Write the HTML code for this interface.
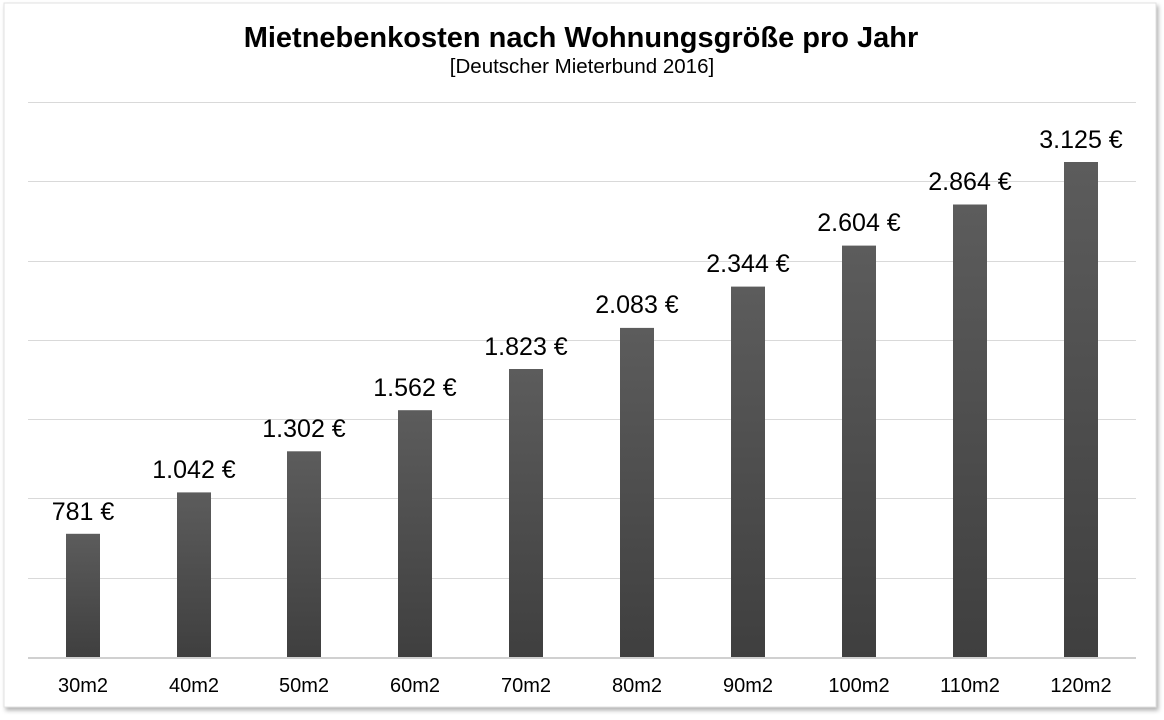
<!DOCTYPE html>
<html><head><meta charset="utf-8"><style>
body{margin:0;background:#fff;width:1164px;height:715px;overflow:hidden}
</style></head><body>
<svg width="1164" height="715" xmlns="http://www.w3.org/2000/svg" font-family="Liberation Sans, Arial, sans-serif">
<defs>
<linearGradient id="g" x1="0" y1="0" x2="0" y2="1"><stop offset="0" stop-color="#5c5c5c"/><stop offset="1" stop-color="#3f3f3f"/></linearGradient>
<filter id="s" x="-5%" y="-5%" width="110%" height="110%"><feDropShadow dx="2" dy="3" stdDeviation="2" flood-color="#000" flood-opacity="0.3"/></filter>
</defs>
<rect x="4" y="3" width="1152" height="704" fill="#fff" stroke="#e2e2e2" filter="url(#s)"/>
<text x="581" y="47" text-anchor="middle" font-size="29" font-weight="bold" fill="#000">Mietnebenkosten nach Wohnungsgröße pro Jahr</text>
<text x="582" y="73" text-anchor="middle" font-size="20.5" fill="#000">[Deutscher Mieterbund 2016]</text>
<g stroke="#d9d9d9" stroke-width="1">
<line x1="28" x2="1136" y1="102.5" y2="102.5"/>
<line x1="28" x2="1136" y1="181.5" y2="181.5"/>
<line x1="28" x2="1136" y1="261.5" y2="261.5"/>
<line x1="28" x2="1136" y1="340.5" y2="340.5"/>
<line x1="28" x2="1136" y1="419.5" y2="419.5"/>
<line x1="28" x2="1136" y1="498.5" y2="498.5"/>
<line x1="28" x2="1136" y1="578.5" y2="578.5"/>
</g>
<g fill="url(#g)">
<rect x="66" y="533.8" width="34" height="123.2"/>
<rect x="177" y="492.4" width="34" height="164.6"/>
<rect x="287" y="451.3" width="34" height="205.7"/>
<rect x="398" y="410.2" width="34" height="246.8"/>
<rect x="509" y="369.0" width="34" height="288"/>
<rect x="620" y="327.9" width="34" height="329.1"/>
<rect x="731" y="286.6" width="34" height="370.4"/>
<rect x="842" y="245.6" width="34" height="411.4"/>
<rect x="953" y="204.5" width="34" height="452.5"/>
<rect x="1064" y="162" width="34" height="495"/>
</g>
<line x1="28" x2="1136" y1="658" y2="658" stroke="#d0d0d0" stroke-width="2"/>
<g font-size="25" text-anchor="middle" fill="#000">
<text x="83" y="520">781 €</text>
<text x="194" y="478">1.042 €</text>
<text x="304" y="437">1.302 €</text>
<text x="415" y="396">1.562 €</text>
<text x="526" y="355">1.823 €</text>
<text x="637" y="313">2.083 €</text>
<text x="748" y="272">2.344 €</text>
<text x="859" y="231">2.604 €</text>
<text x="970" y="190">2.864 €</text>
<text x="1081" y="148">3.125 €</text>
</g>
<g font-size="20" text-anchor="middle" fill="#000">
<text x="83" y="692">30m2</text>
<text x="194" y="692">40m2</text>
<text x="304" y="692">50m2</text>
<text x="415" y="692">60m2</text>
<text x="526" y="692">70m2</text>
<text x="637" y="692">80m2</text>
<text x="748" y="692">90m2</text>
<text x="859" y="692">100m2</text>
<text x="970" y="692">110m2</text>
<text x="1081" y="692">120m2</text>
</g>
</svg>
</body></html>
